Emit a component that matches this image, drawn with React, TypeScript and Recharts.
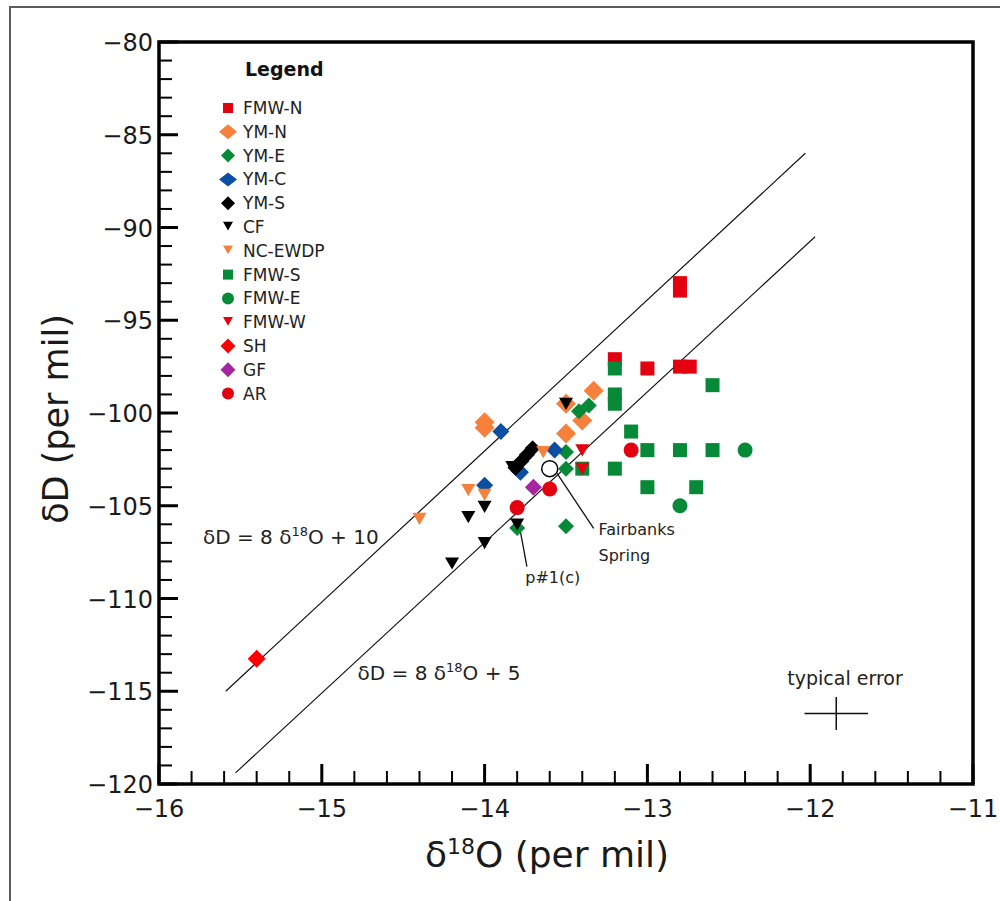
import React from 'react';
import { ScatterChart, Scatter, XAxis, YAxis, ReferenceLine, ReferenceArea, Legend, ErrorBar } from 'recharts';

// ---------- data (δ18O, δD) ----------
const fmwN = [
  { x: -13.2, y: -97.1 }, { x: -13.0, y: -97.6 }, { x: -12.8, y: -97.5 }, { x: -12.74, y: -97.5 },
  { x: -12.8, y: -93.0 }, { x: -12.8, y: -93.4 },
];
const ymN = [
  { x: -14.0, y: -100.5 }, { x: -14.0, y: -100.8 }, { x: -13.5, y: -99.5 }, { x: -13.33, y: -98.8 },
  { x: -13.4, y: -100.4 }, { x: -13.5, y: -101.1 },
];
const ymE = [
  { x: -13.42, y: -99.9 }, { x: -13.36, y: -99.6 }, { x: -13.5, y: -102.1 }, { x: -13.5, y: -103.0 },
  { x: -13.5, y: -106.1 }, { x: -13.8, y: -106.2 },
];
const ymC = [
  { x: -13.9, y: -101.0 }, { x: -13.78, y: -103.2 }, { x: -13.57, y: -102.0 }, { x: -14.0, y: -103.9 },
];
const ymS = [
  { x: -13.81, y: -102.95 }, { x: -13.775, y: -102.6 }, { x: -13.74, y: -102.25 }, { x: -13.705, y: -101.9 },
];
const cf = [
  { x: -13.5, y: -99.5 }, { x: -13.83, y: -102.9 }, { x: -14.0, y: -105.05 }, { x: -14.1, y: -105.6 },
  { x: -14.0, y: -107.0 }, { x: -14.2, y: -108.1 }, { x: -13.8, y: -106.0 },
];
const ncEwdp = [
  { x: -13.64, y: -102.1 }, { x: -14.1, y: -104.15 }, { x: -14.0, y: -104.4 }, { x: -14.4, y: -105.7 },
];
const fmwS = [
  { x: -13.2, y: -97.6 }, { x: -13.2, y: -99.0 }, { x: -13.2, y: -99.5 }, { x: -13.1, y: -101.0 },
  { x: -13.0, y: -102.0 }, { x: -12.8, y: -102.0 }, { x: -12.6, y: -102.0 }, { x: -13.2, y: -103.0 },
  { x: -13.4, y: -103.0 }, { x: -13.0, y: -104.0 }, { x: -12.7, y: -104.0 }, { x: -12.6, y: -98.5 },
];
const fmwE = [{ x: -12.4, y: -102.0 }, { x: -12.8, y: -105.0 }];
const fmwW = [{ x: -13.4, y: -102.0 }, { x: -13.4, y: -103.0 }];
const sh = [{ x: -15.4, y: -113.25 }];
const gf = [{ x: -13.7, y: -104.0 }];
const ar = [{ x: -13.1, y: -102.0 }, { x: -13.6, y: -104.1 }, { x: -13.8, y: -105.1 }];
const fairbanks = [{ x: -13.6, y: -103.0 }];

// meteoric water lines
const line10 = [{ x: -15.59, y: -115.0 }, { x: -12.03, y: -86.0 }];
const line5 = [{ x: -15.53, y: -119.4 }, { x: -11.97, y: -90.5 }];
// annotation leader lines
const fairbanksLeader = [{ x: -13.555, y: -103.26 }, { x: -13.33, y: -106.22 }];
const p1Leader = [{ x: -13.78, y: -106.4 }, { x: -13.74, y: -108.28 }];
// typical error
const typicalError = [{ x: -11.84, y: -116.2, ex: 0.195, ey: 0.89 }];

// text annotations
const annotations = [
  { x: -15.73, y: -107.06, kind: 'eq', a: '10', anchor: 'start' },
  { x: -14.78, y: -114.39, kind: 'eq', a: '5', anchor: 'start' },
  { x: -13.30, y: -106.58, kind: 'txt', a: 'Fairbanks', anchor: 'start' },
  { x: -13.30, y: -107.98, kind: 'txt', a: 'Spring', anchor: 'start' },
  { x: -13.75, y: -109.16, kind: 'txt', a: 'p#1(c)', anchor: 'start' },
  { x: -11.786, y: -114.66, kind: 'big', a: 'typical error', anchor: 'middle' },
];

// ticks
const xMajor = [-16, -15, -14, -13, -12, -11];
const xTicks = Array.from({ length: 26 }, (_, i) => Math.round((-16 + i * 0.2) * 10) / 10);
const yMajor = [-120, -115, -110, -105, -100, -95, -90, -85, -80];
const yTicks = Array.from({ length: 41 }, (_, i) => -120 + i);

const FONT = '"DejaVu Sans", "Liberation Sans", Arial, sans-serif';
const fmt = (v: number) => String(v).replace('-', '\u2212');

type Kind = 'square' | 'diamond' | 'tri' | 'circle' | 'open';
interface Series { name: string; data: any[]; color: string; kind: Kind; size: number; lsize: number; lw?: number; lh?: number }

const series: Series[] = [
  { name: 'FMW-N', data: fmwN, color: '#e3000f', kind: 'square', size: 14, lsize: 10 },
  { name: 'YM-N', data: ymN, color: '#f7803c', kind: 'diamond', size: 20, lsize: 14, lw: 18, lh: 15 },
  { name: 'YM-E', data: ymE, color: '#078a37', kind: 'diamond', size: 16, lsize: 14 },
  { name: 'YM-C', data: ymC, color: '#0b4ea2', kind: 'diamond', size: 17, lsize: 14, lw: 18, lh: 14 },
  { name: 'YM-S', data: ymS, color: '#000000', kind: 'diamond', size: 16, lsize: 14 },
  { name: 'CF', data: cf, color: '#000000', kind: 'tri', size: 14, lsize: 10 },
  { name: 'NC-EWDP', data: ncEwdp, color: '#f7803c', kind: 'tri', size: 14, lsize: 10 },
  { name: 'FMW-S', data: fmwS, color: '#078a37', kind: 'square', size: 14, lsize: 10 },
  { name: 'FMW-E', data: fmwE, color: '#078a37', kind: 'circle', size: 15, lsize: 12 },
  { name: 'FMW-W', data: fmwW, color: '#e3000f', kind: 'tri', size: 14, lsize: 10 },
  { name: 'SH', data: sh, color: '#ff0000', kind: 'diamond', size: 18, lsize: 15 },
  { name: 'GF', data: gf, color: '#a4279f', kind: 'diamond', size: 17, lsize: 15 },
  { name: 'AR', data: ar, color: '#e3000f', kind: 'circle', size: 15, lsize: 12 },
];

function marker(kind: Kind, cx: number, cy: number, s: number, color: string, w?: number, h?: number) {
  const hw = (w ?? s) / 2;
  const hh = (h ?? s) / 2;
  switch (kind) {
    case 'square':
      return <rect x={cx - s / 2} y={cy - s / 2} width={s} height={s} fill={color} />;
    case 'diamond':
      return <polygon points={`${cx},${cy - hh} ${cx + hw},${cy} ${cx},${cy + hh} ${cx - hw},${cy}`} fill={color} />;
    case 'tri':
      return <polygon points={`${cx - s / 2},${cy - s * 0.42} ${cx + s / 2},${cy - s * 0.42} ${cx},${cy + s * 0.45}`} fill={color} />;
    case 'circle':
      return <circle cx={cx} cy={cy} r={s / 2} fill={color} />;
    case 'open':
      return <circle cx={cx} cy={cy} r={s / 2} fill="#fff" stroke="#000" strokeWidth={1.5} />;
  }
  return null;
}

const makeShape = (s: Series) => (props: any) => {
  const { cx, cy } = props;
  if (cx == null || cy == null) return <g />;
  return <g>{marker(s.kind, cx, cy, s.size, s.color)}</g>;
};

function XTick(props: any) {
  const { x, y, payload } = props;
  const v = payload.value;
  const major = xMajor.includes(v);
  return (
    <g>
      <line x1={x} x2={x} y1={y} y2={y - (major ? 20 : 13)} stroke="#000" strokeWidth={major ? 3 : 2} />
      {major && (
        <text x={x} y={y + 33} textAnchor="middle" fontFamily={FONT} fontSize={24} fill="#1a1a1a">
          {fmt(v)}
        </text>
      )}
    </g>
  );
}

function YTick(props: any) {
  const { x, y, payload } = props;
  const v = payload.value;
  const major = yMajor.includes(v);
  return (
    <g>
      <line x1={x} x2={x + (major ? 19 : 13)} y1={y} y2={y} stroke="#000" strokeWidth={major ? 3 : 2} />
      {major && (
        <text x={x - 6} y={y + 9} textAnchor="end" fontFamily={FONT} fontSize={24} fill="#1a1a1a">
          {fmt(v)}
        </text>
      )}
    </g>
  );
}

function XTitle(props: any) {
  const vb = props.viewBox && props.viewBox.width ? props.viewBox : { x: 159, y: 784, width: 814, height: 1 };
  const cx = vb.x + vb.width / 2 - 19;
  return (
    <text x={cx} y={784 + 83} textAnchor="middle" fontFamily={FONT} fontSize={36} fill="#1a1a1a">
      δ<tspan dy={-13} fontSize={22}>18</tspan>
      <tspan dy={13}>O (per mil)</tspan>
    </text>
  );
}

function YTitle(props: any) {
  const vb = props.viewBox && props.viewBox.height ? props.viewBox : { x: 158, y: 42, width: 1, height: 742 };
  const x = 68;
  const y = vb.y + vb.height / 2 + 6;
  return (
    <text x={x} y={y} transform={`rotate(-90, ${x}, ${y})`} textAnchor="middle" fontFamily={FONT} fontSize={35} fill="#1a1a1a">
      δD (per mil)
    </text>
  );
}

function AnnotationShape(props: any) {
  const { cx, cy, payload } = props;
  if (cx == null) return <g />;
  if (payload.kind === 'eq') {
    return (
      <text x={cx} y={cy} textAnchor={payload.anchor} fontFamily={FONT} fontSize={20} fill="#222">
        δD = 8 δ<tspan dy={-8} fontSize={13}>18</tspan>
        <tspan dy={8}>O + {payload.a}</tspan>
      </text>
    );
  }
  return (
    <text x={cx} y={cy} textAnchor={payload.anchor} fontFamily={FONT} fontSize={payload.kind === 'big' ? 19 : 16} fill="#222">
      {payload.a}
    </text>
  );
}

function LegendBox() {
  return (
    <svg width={200} height={360} style={{ display: 'block' }}>
      <text x={32} y={26} fontFamily={FONT} fontSize={19} fontWeight="bold" fill="#111">
        Legend
      </text>
      {series.map((s, i) => {
        const cy = 58 + i * 23.8;
        return (
          <g key={s.name}>
            {marker(s.kind, 15, s.kind === 'tri' ? cy - 1 : cy, s.lsize, s.color, s.lw, s.lh)}
            <text x={30} y={cy + 6} fontFamily={FONT} fontSize={17} fill="#222">
              {s.name}
            </text>
          </g>
        );
      })}
    </svg>
  );
}

export default function App() {
  return (
    <div style={{ position: 'absolute', left: 0, top: 0, width: 1000, height: 901, overflow: 'hidden', background: '#fff' }}>
      <div style={{ position: 'absolute', left: 9, top: 6, width: 1100, height: 1100, border: '2px solid #5a5a5a', boxSizing: 'border-box' }} />
      <div style={{ position: 'absolute', left: 0, top: 0 }}>
        <ScatterChart width={1000} height={901} margin={{ top: 42, right: 27, bottom: 116, left: 158 }}>
          <XAxis
            type="number"
            dataKey="x"
            domain={[-16, -11]}
            ticks={xTicks}
            interval={0}
            allowDataOverflow
            tick={<XTick />}
            tickLine={false}
            axisLine={false}
            tickSize={0}
            tickMargin={0}
            height={1}
            label={(p: any) => <XTitle {...p} />}
          />
          <YAxis
            type="number"
            dataKey="y"
            domain={[-120, -80]}
            ticks={yTicks}
            interval={0}
            allowDataOverflow
            tick={<YTick />}
            tickLine={false}
            axisLine={false}
            tickSize={0}
            tickMargin={0}
            width={1}
            label={(p: any) => <YTitle {...p} />}
          />
          <Legend
            layout="horizontal"
            verticalAlign="middle"
            align="center"
            wrapperStyle={{ left: 213, top: 50, width: 200, height: 360 }}
            content={() => <LegendBox />}
          />
          <ReferenceLine segment={line10} stroke="#111" strokeWidth={1.2} />
          <ReferenceLine segment={line5} stroke="#111" strokeWidth={1.2} />
          <ReferenceLine segment={fairbanksLeader} stroke="#111" strokeWidth={1.3} />
          <ReferenceLine segment={p1Leader} stroke="#111" strokeWidth={1.3} />
          {series.map((s) => (
            <Scatter key={s.name} name={s.name} data={s.data} isAnimationActive={false} shape={makeShape(s)} />
          ))}
          <Scatter
            name="Fairbanks Spring"
            data={fairbanks}
            isAnimationActive={false}
            legendType="none"
            shape={(p: any) => (p.cx == null ? <g /> : <g>{marker('open', p.cx, p.cy, 16, '#000')}</g>)}
          />
          <Scatter name="typical error" data={typicalError} isAnimationActive={false} legendType="none" shape={() => <g />}>
            <ErrorBar dataKey="ex" direction="x" width={0} stroke="#111" strokeWidth={1.5} />
            <ErrorBar dataKey="ey" direction="y" width={0} stroke="#111" strokeWidth={1.5} />
          </Scatter>
          <Scatter name="annotations" data={annotations} isAnimationActive={false} legendType="none" shape={AnnotationShape} />
          <ReferenceArea x1={-16} x2={-11} y1={-120} y2={-80} fill="none" fillOpacity={0} stroke="#000" strokeWidth={3.5} />
        </ScatterChart>
      </div>
    </div>
  );
}
